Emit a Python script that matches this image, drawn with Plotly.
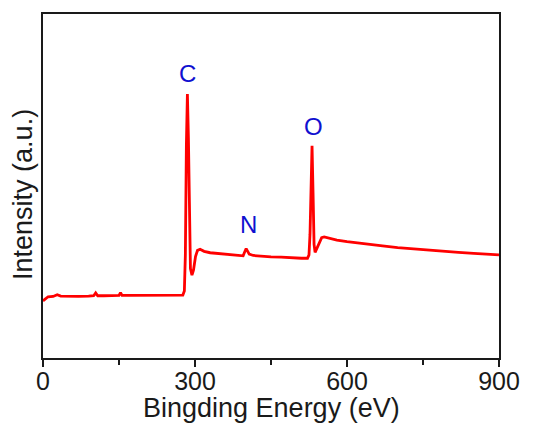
import plotly.graph_objects as go

# Binding energy (eV) and intensity (a.u.)
energy = [0, 4, 10, 20, 28, 35, 50, 70, 90, 100, 104, 108, 120, 140, 150, 153, 156, 170, 200, 230, 260, 276,
          279, 281, 283, 285, 287, 289, 291, 294, 297, 301, 305, 310, 318, 330, 345, 360, 380, 395, 398, 401,
          404, 407, 415, 430, 450, 470, 490, 510, 522, 525, 527, 529, 531, 533, 535, 537, 541, 546, 550, 555,
          565, 580, 600, 620, 640, 670, 700, 730, 760, 790, 820, 850, 880, 900]
intensity = [16.6, 17.2, 17.8, 17.9, 18.4, 18.0, 17.9, 17.9, 18.0, 18.1, 18.9, 18.1, 18.1, 18.1, 18.2, 19.0, 18.2,
             18.2, 18.2, 18.3, 18.3, 18.3, 19.5, 30.0, 62.0, 76.7, 64.0, 36.0, 26.0, 24.1, 25.5, 29.5, 31.3, 31.6,
             31.0, 30.6, 30.4, 30.1, 29.9, 29.7, 30.8, 31.8, 31.0, 30.2, 29.8, 29.6, 29.4, 29.3, 29.1, 29.0, 29.0,
             30.0, 36.0, 52.0, 61.7, 48.0, 33.0, 30.7, 32.0, 34.0, 35.0, 35.2, 34.8, 34.3, 33.8, 33.4, 33.0,
             32.6, 32.1, 31.7, 31.3, 31.0, 30.7, 30.4, 30.2, 30.0]

peak_labels = ["C", "N", "O"]
peak_x = [285, 405, 533]
peak_y = [82.8, 38.7, 67.2]

x_ticks = [0, 300, 600, 900]
x_minor = [150, 450, 750]

FONT = "Liberation Sans, Arial"
TXT = "#1a1a1a"

fig = go.Figure()
fig.add_trace(go.Scatter(x=energy, y=intensity, mode="lines",
                         line=dict(color="#ff0000", width=2.8), showlegend=False))

for lab, px, py in zip(peak_labels, peak_x, peak_y):
    fig.add_annotation(x=px, y=py, text=lab, showarrow=False,
                       font=dict(family=FONT, size=24, color="#1010d0"),
                       xanchor="center", yanchor="middle")

# axis titles
fig.add_annotation(xref="paper", yref="paper", x=0.5, y=0, yshift=-50, text="Bingding Energy (eV)",
                   showarrow=False, xanchor="center", yanchor="middle",
                   font=dict(family=FONT, size=27, color=TXT))
fig.add_annotation(xref="paper", yref="paper", x=0, xshift=-20, y=0.474, text="Intensity (a.u.)",
                   showarrow=False, xanchor="center", yanchor="middle", textangle=-90,
                   font=dict(family=FONT, size=27, color=TXT))

# the page body adds an 8px offset, so margins are shifted to keep the plot box in place
fig.update_layout(
    width=534, height=423,
    margin=dict(l=35, r=43, t=6, b=73),
    paper_bgcolor="white", plot_bgcolor="white",
    font=dict(family=FONT, color=TXT),
)
fig.update_xaxes(range=[0, 900], tickvals=x_ticks, ticktext=[str(v) for v in x_ticks],
                 ticks="outside", ticklen=7, tickwidth=1.5, tickcolor=TXT, ticklabelstandoff=-7,
                 minor=dict(tickvals=x_minor, ticks="outside", ticklen=5, tickwidth=1.5, tickcolor=TXT),
                 showline=True, linecolor=TXT, linewidth=2, mirror=True,
                 showgrid=False, zeroline=False, automargin=False,
                 tickfont=dict(family=FONT, size=25, color=TXT))
fig.update_yaxes(range=[0, 100], showticklabels=False, ticks="",
                 showline=True, linecolor=TXT, linewidth=2, mirror=True,
                 showgrid=False, zeroline=False, automargin=False)

fig.write_html("out.html")
